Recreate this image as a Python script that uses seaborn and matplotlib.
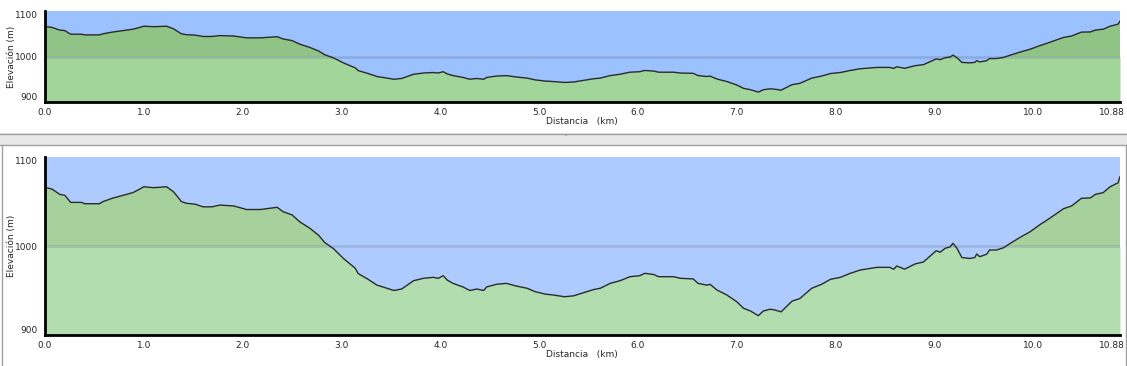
import matplotlib
matplotlib.use('Agg')
import matplotlib.pyplot as plt
import matplotlib.patches as mpatches
import matplotlib.transforms as mtransforms
import pandas as pd
import seaborn as sns
import numpy as np

# elevation profile
dist = [0.00, 0.07, 0.15, 0.20, 0.26, 0.37, 0.40, 0.55, 0.59, 0.68, 0.76, 0.83, 0.89, 0.96,
        1.00, 1.10, 1.23, 1.30, 1.38, 1.43, 1.52, 1.60, 1.69, 1.77, 1.91, 2.04, 2.18, 2.35,
        2.41, 2.50, 2.58, 2.68, 2.77, 2.83, 2.92, 3.02, 3.14, 3.17, 3.27, 3.36, 3.42, 3.53,
        3.61, 3.73, 3.83, 3.93, 3.98, 4.03, 4.07, 4.13, 4.23, 4.30, 4.37, 4.44, 4.47, 4.57,
        4.67, 4.77, 4.88, 4.96, 5.06, 5.14, 5.26, 5.35, 5.45, 5.55, 5.62, 5.72, 5.82, 5.92,
        6.02, 6.07, 6.16, 6.21, 6.36, 6.43, 6.56, 6.61, 6.70, 6.73, 6.80, 6.90, 7.00, 7.07,
        7.14, 7.22, 7.27, 7.34, 7.39, 7.45, 7.51, 7.56, 7.64, 7.76, 7.86, 7.95, 8.05, 8.15,
        8.25, 8.42, 8.55, 8.59, 8.62, 8.70, 8.81, 8.89, 8.96, 9.02, 9.06, 9.11, 9.16, 9.19,
        9.23, 9.28, 9.36, 9.41, 9.43, 9.46, 9.53, 9.56, 9.63, 9.70, 9.77, 9.87, 9.97, 10.07,
        10.14, 10.24, 10.31, 10.39, 10.49, 10.58, 10.63, 10.71, 10.78, 10.86, 10.88]
elev = [1066, 1064, 1058, 1057, 1049, 1049, 1047.5, 1047.5, 1050, 1053.6, 1056, 1058, 1060, 1064,
        1066.6, 1065.5, 1066.6, 1061, 1050, 1048, 1047, 1044, 1044, 1046, 1045, 1041, 1041, 1043.5,
        1038.5, 1035, 1027, 1020, 1012, 1004, 997, 986, 975, 969, 962.6, 956, 954, 950,
        951.7, 961, 963.7, 964.8, 963.7, 966.6, 961.8, 958, 954, 950, 951.7, 950, 954, 957,
        958, 955, 952.5, 948.7, 946, 945, 943, 944, 947.5, 951, 952.5, 958, 961, 965.5,
        966.6, 969.3, 968, 965.5, 965.5, 963.7, 963, 958, 956, 957, 950.6, 945, 937.5, 930,
        927, 921.7, 927, 929, 928, 926, 932.6, 938, 941, 952.5, 957, 962.6, 964.8, 969.3,
        973, 976, 976, 973.8, 977.5, 974, 980, 982, 988.8, 994.7, 993, 997.4, 999, 1003,
        997.4, 987, 986, 987, 991, 988, 990.7, 995.5, 995.5, 998, 1003, 1009.8, 1016, 1024,
        1029, 1036.7, 1042, 1045, 1053.6, 1054, 1058, 1060, 1066.6, 1071, 1078]

xticks = [0.0, 1.0, 2.0, 3.0, 4.0, 5.0, 6.0, 7.0, 8.0, 9.0, 10.0, 10.88]
xlabels = ['0.0', '1.0', '2.0', '3.0', '4.0', '5.0', '6.0', '7.0', '8.0', '9.0', '10.0', '10.88']
yticks = [900, 1000, 1100]

df = pd.DataFrame({'dist': dist, 'elev': elev})

sns.set_style('white')
W, H = 1127, 366
fig = plt.figure(figsize=(W / 100, H / 100), dpi=100)

# gray splitter between the two panels
fig.patches.append(mpatches.Rectangle((0, 1 - 145 / H), 1, 12 / H, transform=fig.transFigure,
                                      facecolor='#e8e8e8', edgecolor='none', zorder=0))
fig.add_artist(plt.Line2D([0, 1], [1 - 133.5 / H] * 2, color='#a0a0a0', lw=1))
fig.add_artist(plt.Line2D([0, 1], [1 - 144.5 / H] * 2, color='#a0a0a0', lw=1))
fig.add_artist(plt.Line2D([1.5 / W] * 2, [0, 1 - 144.5 / H], color='#a0a0a0', lw=1))
fig.add_artist(plt.Line2D([1125.5 / W] * 2, [0, 1 - 144.5 / H], color='#a0a0a0', lw=1))
fig.text(565 / W, 1 - 139 / H, '\u02c6', fontsize=6, color='#999999', ha='center', va='center')


def profile(ax, sky, green_hi, green_lo, label_y):
    x = df['dist'].to_numpy()
    y = df['elev'].to_numpy()
    ax.set_facecolor(sky)
    ax.fill_between(x, 900, np.minimum(y, 1000), color=green_lo, lw=0, zorder=1)
    ax.fill_between(x, 1000, y, where=y > 1000, interpolate=True, color=green_hi, lw=0, zorder=1)
    ax.axhline(1000, color='#404040', alpha=0.15, lw=2, zorder=2)
    sns.lineplot(data=df, x='dist', y='elev', ax=ax, color='#2b2b2b', lw=1, zorder=3)
    ax.set_xlim(0, 10.88)
    ax.set_ylim(900, 1100)
    ax.set_xticks(xticks)
    ax.set_xticklabels(xlabels)
    ax.set_yticks(yticks)
    ax.set_yticklabels([str(v) for v in yticks])
    ylabs = ax.get_yticklabels()
    ylabs[0].set_va('bottom')
    ylabs[-1].set_va('top')
    ax.tick_params(axis='x', direction='inout', length=6, width=1.5, labelsize=6.5, pad=1)
    ax.tick_params(axis='y', direction='out', length=4, width=1.5, labelsize=6.5, pad=1)
    last = ax.get_xticklabels()[-1]
    last.set_ha('right')
    last.set_transform(last.get_transform() +
                       mtransforms.ScaledTranslation(5 / 100, 0, fig.dpi_scale_trans))
    for s in ['top', 'right']:
        ax.spines[s].set_visible(False)
    for s in ['left', 'bottom']:
        ax.spines[s].set_color('black')
        ax.spines[s].set_linewidth(2)
        ax.spines[s].set_zorder(5)
    ax.set_xlabel('')
    ax.set_ylabel('Elevación (m)', fontsize=6.5)
    ax.yaxis.set_label_coords(-29 / 1075, 0.5)
    fig.text(582 / W, 1 - label_y / H, 'Distancia   (km)', fontsize=6.5, ha='center', va='center')


ax1 = fig.add_axes([45 / W, 1 - 102 / H, 1075 / W, 91 / H])
profile(ax1, '#9bc1ff', '#90c386', '#a2d599', 122)

ax2 = fig.add_axes([45 / W, 1 - 335 / H, 1075 / W, 178 / H])
profile(ax2, '#aecbff', '#a6d09c', '#b2ddae', 355)

fig.savefig('out.png', dpi=100)
